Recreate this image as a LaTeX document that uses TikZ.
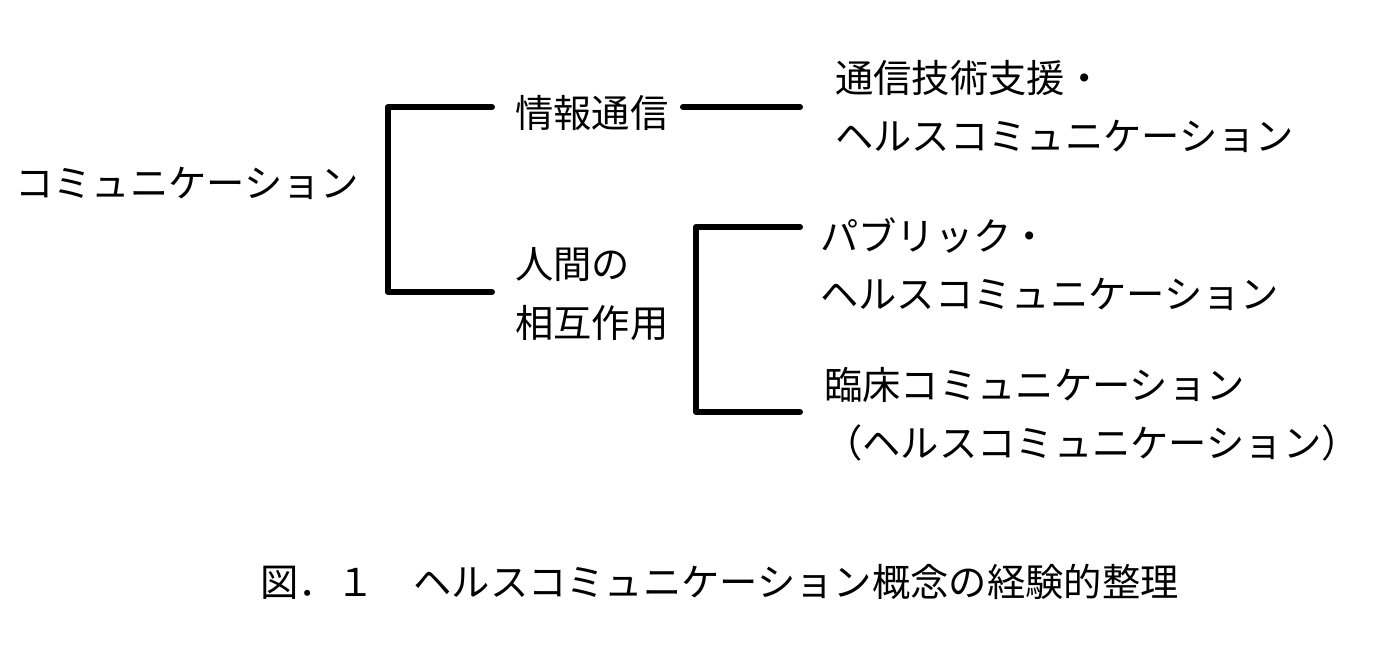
\documentclass[tikz,border=0pt]{standalone}
\usepackage{fontspec}
\setmainfont{Noto Sans CJK JP}
\begin{document}
\begin{tikzpicture}[x=1pt,y=-1pt,
  lbl/.style={anchor=base west,inner sep=0pt,font=\fontsize{38.3}{58}\selectfont},
  brk/.style={line width=6pt,line cap=round,line join=round}]
\fill[white] (0,0) rectangle (1376,647);
\useasboundingbox (0,0) rectangle (1376,647);
% labels
\node[lbl] (com) at (15,197.5) {コミュニケーション};
\node[lbl] (jh) at (515,127.5) {情報通信};
\node[lbl] (ng) at (515,278.5) {人間の};
\node[lbl] (sg) at (515,337.5) {相互作用};
\node[lbl] (r1a) at (835,92.5) {通信技術支援・};
\node[lbl] (r1b) at (835,150.5) {ヘルスコミュニケーション};
\node[lbl] (r2a) at (820,250.5) {パブリック・};
\node[lbl] (r2b) at (820,308.5) {ヘルスコミュニケーション};
\node[lbl] (r3a) at (824,399.5) {臨床コミュニケーション};
\node[lbl] (r3b) at (824,457.5) {（ヘルスコミュニケーション）};
\node[lbl] (cap) at (260,596.5) {図．１　ヘルスコミュニケーション概念の経験的整理};
% connectors
\coordinate (b1a) at (492,107);
\coordinate (b1t) at (388,107);
\coordinate (b1b) at (388,292);
\coordinate (b1c) at (492,292);
\coordinate (m1) at (683,107);
\coordinate (m2) at (800,107);
\coordinate (b2a) at (800,227);
\coordinate (b2t) at (696,227);
\coordinate (b2b) at (696,412);
\coordinate (b2c) at (800,412);
\draw[brk] (b1a) -- (b1t) -- (b1b) -- (b1c);
\draw[brk] (m1) -- (m2);
\draw[brk] (b2a) -- (b2t) -- (b2b) -- (b2c);
\end{tikzpicture}
\end{document}
